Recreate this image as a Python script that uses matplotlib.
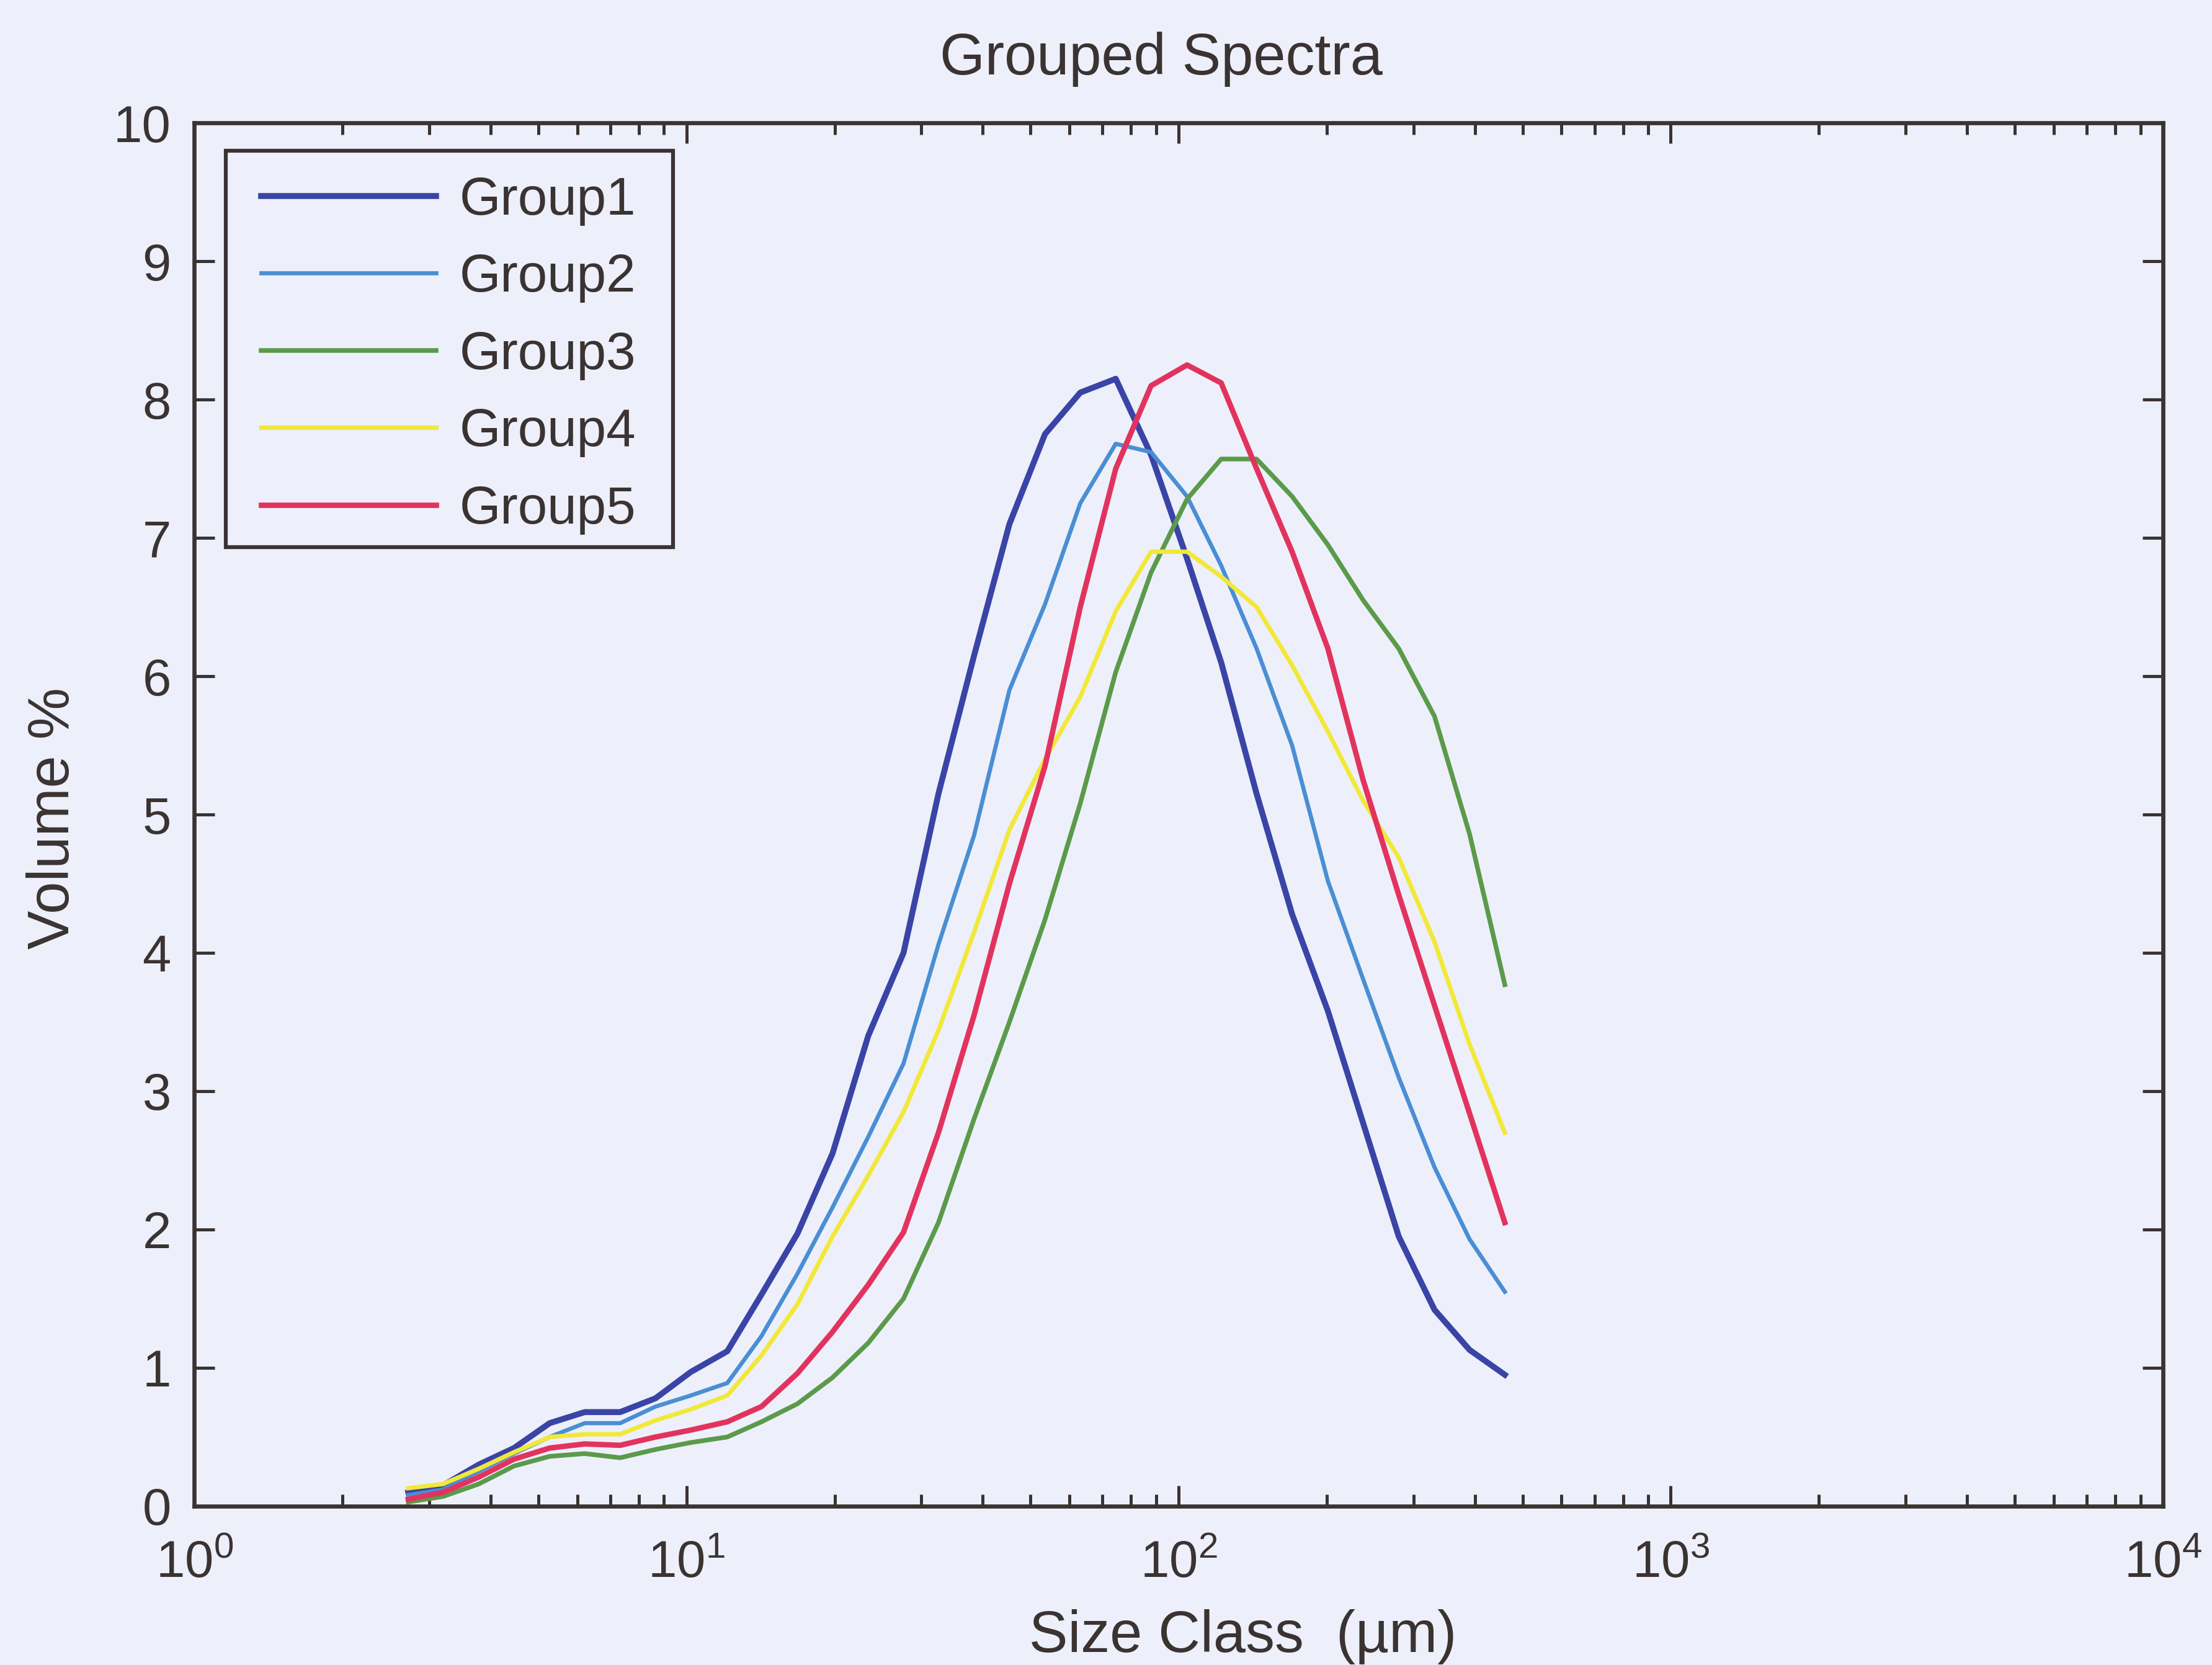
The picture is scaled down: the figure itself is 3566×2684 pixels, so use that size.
"""Grouped Spectra - volume distribution of the five particle size groups."""
import matplotlib
matplotlib.use("Agg")
import matplotlib.pyplot as plt
from matplotlib.patches import Rectangle
from matplotlib.ticker import LogLocator, FixedLocator

# size classes (um), LISST type C bin centres
size_class = [2.72, 3.20, 3.78, 4.46, 5.27, 6.21, 7.33, 8.65, 10.2, 12.1, 14.2,
              16.8, 19.8, 23.4, 27.6, 32.5, 38.4, 45.3, 53.5, 63.1, 74.5, 87.9,
              104, 122, 144, 170, 201, 237, 280, 331, 390, 460]

group1 = [0.10, 0.15, 0.30, 0.42, 0.60, 0.68, 0.68, 0.78, 0.97, 1.12, 1.53,
          1.97, 2.55, 3.40, 4.00, 5.15, 6.15, 7.10, 7.75, 8.05, 8.15, 7.60,
          6.85, 6.10, 5.15, 4.28, 3.58, 2.77, 1.95, 1.42, 1.13, 0.95]
group2 = [0.08, 0.12, 0.25, 0.38, 0.50, 0.60, 0.60, 0.72, 0.80, 0.89, 1.23,
          1.68, 2.16, 2.67, 3.20, 4.06, 4.85, 5.90, 6.52, 7.25, 7.68, 7.62,
          7.30, 6.80, 6.20, 5.50, 4.52, 3.81, 3.10, 2.45, 1.93, 1.55]
group3 = [0.03, 0.07, 0.16, 0.29, 0.36, 0.38, 0.35, 0.41, 0.46, 0.50, 0.61,
          0.74, 0.93, 1.18, 1.50, 2.05, 2.80, 3.50, 4.24, 5.08, 6.03, 6.75,
          7.28, 7.57, 7.57, 7.30, 6.95, 6.55, 6.20, 5.71, 4.86, 3.77]
group4 = [0.13, 0.16, 0.27, 0.39, 0.50, 0.52, 0.52, 0.62, 0.70, 0.80, 1.09,
          1.46, 1.95, 2.39, 2.85, 3.44, 4.15, 4.89, 5.40, 5.85, 6.47, 6.90,
          6.90, 6.72, 6.50, 6.08, 5.60, 5.10, 4.69, 4.08, 3.34, 2.70]
group5 = [0.05, 0.10, 0.21, 0.34, 0.42, 0.45, 0.44, 0.50, 0.55, 0.61, 0.72,
          0.96, 1.26, 1.60, 1.98, 2.70, 3.55, 4.50, 5.35, 6.50, 7.50, 8.10,
          8.25, 8.12, 7.50, 6.90, 6.20, 5.25, 4.42, 3.62, 2.84, 2.05]

labels = ["Group1", "Group2", "Group3", "Group4", "Group5"]
colors = ["#3a44a6", "#4a8ed4", "#5b9a4a", "#f2e83a", "#e2335e"]
widths = [2.3, 1.6, 1.8, 1.7, 2.1]

BG = "#edf0fa"
INK = "#3b3232"

plt.rcParams["font.family"] = ["Liberation Sans", "DejaVu Sans"]
plt.rcParams["mathtext.fontset"] = "custom"
plt.rcParams["mathtext.rm"] = "Liberation Sans"

fig = plt.figure(figsize=(3566 / 300, 2684 / 300), dpi=300, facecolor=BG)
ax = fig.add_axes([0.0879, 0.0954, 0.8899, 0.8308], facecolor=BG)

for ys, lab, c, lw in zip([group1, group2, group3, group4, group5], labels, colors, widths):
    ax.plot(size_class, ys, color=c, lw=lw, label=lab)

ax.set_xscale("log")
ax.set_xlim(1, 1e4)
ax.set_ylim(0, 10)
ax.yaxis.set_major_locator(FixedLocator(range(0, 11)))
ax.xaxis.set_major_locator(LogLocator(base=10, numticks=10))
ax.xaxis.set_minor_locator(LogLocator(base=10, subs=range(2, 10), numticks=50))

ax.tick_params(which="both", direction="in", top=True, right=True, colors=INK,
               labelcolor=INK, labelsize=20, width=1.2)
ax.tick_params(which="major", length=8)
ax.tick_params(which="minor", length=4.5)
ax.tick_params(axis="x", which="major", pad=13)
ax.tick_params(axis="y", which="major", pad=9)
for sp in ax.spines.values():
    sp.set_color(INK)
    sp.set_linewidth(1.6)

# legend box drawn by hand (MATLAB pads it more sideways than up/down)
ax.add_patch(Rectangle((0.0159, 0.6931), 0.2272, 0.2866, transform=ax.transAxes,
                       facecolor=BG, edgecolor=INK, lw=1.5, zorder=4))
leg = ax.legend(loc="upper left", bbox_to_anchor=(0.0338, 0.9615), fontsize=20.5,
                handlelength=3.3, handletextpad=0.45, labelspacing=0.52,
                borderpad=0, borderaxespad=0, frameon=False)
leg.set_zorder(5)
for t in leg.get_texts():
    t.set_color(INK)

fig.text(0.525, 0.9644, "Grouped Spectra", ha="center", va="center", fontsize=22.5, color=INK)
fig.text(0.562, 0.0171, "Size Class  (\u00b5m)", ha="center", va="center", fontsize=22.5, color=INK)
fig.text(0.0242, 0.5086, "Volume %", ha="center", va="center", rotation=90, fontsize=22.5, color=INK)

fig.savefig("out.png", dpi=300, facecolor=BG)
